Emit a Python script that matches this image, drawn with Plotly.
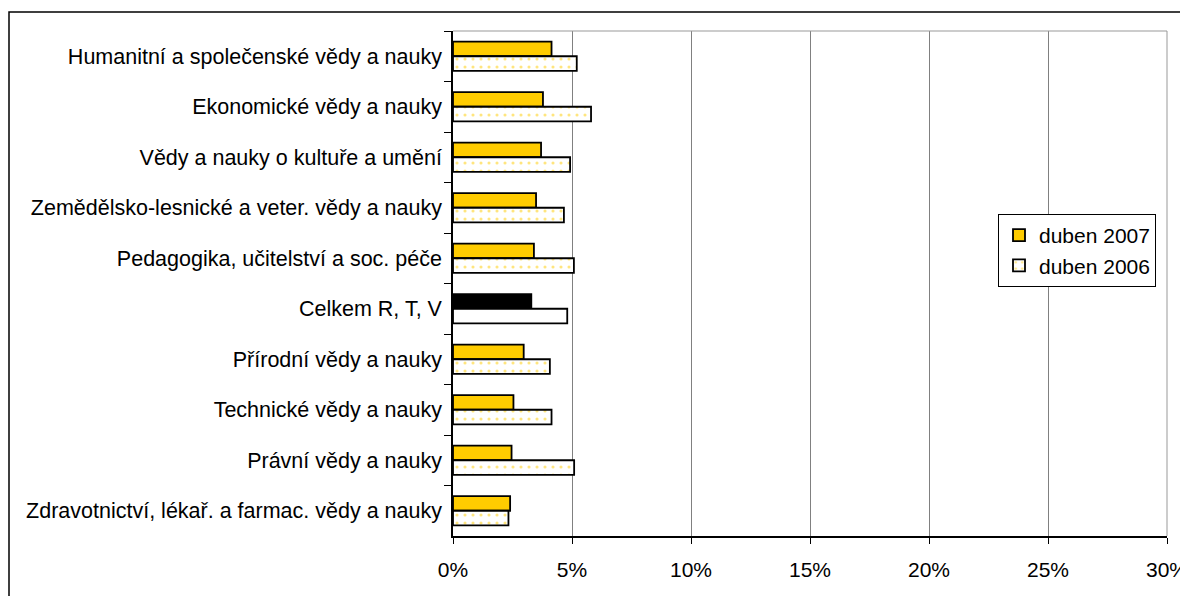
import plotly.graph_objects as go

categories = [
    "Humanitní a společenské vědy a nauky",
    "Ekonomické vědy a nauky",
    "Vědy a nauky o kultuře a umění",
    "Zemědělsko-lesnické a veter. vědy a nauky",
    "Pedagogika, učitelství a soc. péče",
    "Celkem R, T, V",
    "Přírodní vědy a nauky",
    "Technické vědy a nauky",
    "Právní vědy a nauky",
    "Zdravotnictví, lékař. a farmac. vědy a nauky",
]
duben_2007 = [4.14, 3.78, 3.70, 3.49, 3.40, 3.29, 2.97, 2.54, 2.46, 2.40]
duben_2006 = [5.20, 5.80, 4.92, 4.66, 5.08, 4.80, 4.07, 4.14, 5.09, 2.33]
x_ticks = [0, 5, 10, 15, 20, 25, 30]
x_tick_labels = ["0%", "5%", "10%", "15%", "20%", "25%", "30%"]

GOLD = "#FFCC00"
total_label = "Celkem R, T, V"

colors_2007 = ["#000000" if c == total_label else GOLD for c in categories]
shapes_2006 = ["" if c == total_label else "." for c in categories]

fig = go.Figure()
fig.add_trace(go.Bar(
    name="duben 2007", y=categories, x=duben_2007, orientation="h",
    marker=dict(color=colors_2007, line=dict(color="#000000", width=1.8)),
))
fig.add_trace(go.Bar(
    name="duben 2006", y=categories, x=duben_2006, orientation="h",
    marker=dict(color="#FFFFFF", line=dict(color="#000000", width=1.8),
                pattern=dict(shape=shapes_2006, fgcolor=GOLD, bgcolor="#FFFFFF",
                             size=8, solidity=0.12)),
))

FONT = "Liberation Sans, Arial, sans-serif"
OFF = 8  # default page body margin
W, H = 1188 - OFF, 596 - OFF
L = 453 - OFF
T = 31 - OFF
R = W - (1167 - OFF)
B = H - (536 - OFF)
pw, ph = W - L - R, H - T - B

fig.update_layout(
    width=W, height=H,
    margin=dict(l=L, r=R, t=T, b=B, autoexpand=False),
    paper_bgcolor="white", plot_bgcolor="white",
    barmode="group", bargap=0.42, bargroupgap=0.0,
    font=dict(family=FONT, size=21, color="#000000"),
    showlegend=True,
    legend=dict(
        x=(998 - 453) / pw, y=(536 - 214) / ph, xanchor="left", yanchor="top",
        bgcolor="white", bordercolor="#000000", borderwidth=1,
        font=dict(size=21, family=FONT), traceorder="normal",
        itemwidth=30,
    ),
    xaxis=dict(
        range=[0, 30], tickmode="array", tickvals=x_ticks, ticktext=x_tick_labels,
        showgrid=True, gridcolor="#808080", gridwidth=1,
        showline=True, linecolor="#000000", linewidth=1.5,
        ticks="outside", ticklen=6, tickcolor="#000000",
        zeroline=False, mirror=False, ticklabelstandoff=8,
        ticklabeloverflow="allow",
        tickfont=dict(size=21, family=FONT),
    ),
    yaxis=dict(
        type="category", categoryorder="array", categoryarray=categories,
        autorange="reversed",
        showline=True, linecolor="#000000", linewidth=1.5,
        ticks="outside", ticklen=7, tickcolor="#000000", tickson="boundaries",
        showgrid=False, ticklabelstandoff=5,
        tickfont=dict(size=21.5, family=FONT),
    ),
    shapes=[
        dict(type="line", xref="paper", yref="paper", x0=0, x1=1, y0=1, y1=1,
             line=dict(color="#999999", width=1)),
        dict(type="line", xref="paper", yref="paper", x0=1, x1=1, y0=0, y1=1,
             line=dict(color="#999999", width=1)),
        dict(type="rect", xref="paper", yref="paper",
             x0=(9 - 453) / pw, x1=(1188 + 30 - 453) / pw,
             y0=-(596 + 30 - 536) / ph, y1=(536 - 12) / ph,
             line=dict(color="#000000", width=1.5), fillcolor="rgba(0,0,0,0)",
             layer="below"),
    ],
)

fig.write_html("out.html")
